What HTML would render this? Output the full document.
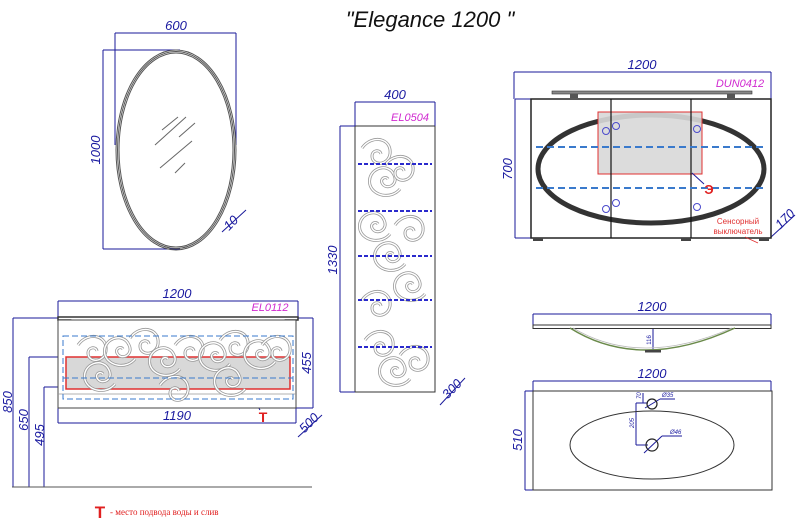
<!DOCTYPE html>
<html><head><meta charset="utf-8"><style>
html,body{margin:0;padding:0;background:#fff;width:800px;height:523px;overflow:hidden}
svg{display:block}
text{font-family:"Liberation Sans",sans-serif}
.it{font-style:italic}
</style></head><body>
<svg width="800" height="523" viewBox="0 0 800 523" xmlns="http://www.w3.org/2000/svg">
<defs>
<g id="curl">
<path d="M0,0 c10,-14 30,-10 28,6 c-2,12 -18,12 -18,2 c0,-6 8,-7 9,-2" fill="none" stroke="#999" stroke-width="3"/>
<path d="M0,0 c10,-14 30,-10 28,6 c-2,12 -18,12 -18,2 c0,-6 8,-7 9,-2" fill="none" stroke="#fff" stroke-width="1.4"/>
</g>
<g id="curl2">
<path d="M0,0 c-4,-16 18,-24 24,-10 c5,10 -8,16 -12,8 c-2,-5 4,-7 6,-4 M0,0 c4,12 22,14 30,4" fill="none" stroke="#999" stroke-width="3"/>
<path d="M0,0 c-4,-16 18,-24 24,-10 c5,10 -8,16 -12,8 c-2,-5 4,-7 6,-4 M0,0 c4,12 22,14 30,4" fill="none" stroke="#fff" stroke-width="1.4"/>
</g>
</defs>
<!-- Title -->
<text class="it" x="430" y="27" font-size="22" text-anchor="middle" fill="#111">"Elegance 1200 "</text>

<!-- Mirror -->
<g stroke="#1a1a9a" stroke-width="1" fill="none">
<line x1="115" y1="33" x2="236" y2="33"/><line x1="115" y1="33" x2="115" y2="145"/><line x1="236" y1="33" x2="236" y2="145"/>
<line x1="103" y1="50" x2="180" y2="50"/><line x1="103" y1="249" x2="180" y2="249"/><line x1="103" y1="50" x2="103" y2="249"/>
<line x1="222" y1="232" x2="246" y2="210"/>
</g>
<ellipse cx="176" cy="150" rx="60" ry="100" fill="none" stroke="#555" stroke-width="1"/>
<ellipse cx="176" cy="150" rx="58.5" ry="98.5" fill="none" stroke="#555" stroke-width="1"/>
<ellipse cx="176" cy="150" rx="57" ry="97" fill="none" stroke="#555" stroke-width="1"/>
<g stroke="#666" stroke-width="1">
<line x1="162" y1="130" x2="178" y2="117"/><line x1="155" y1="145" x2="186" y2="117"/><line x1="179" y1="137" x2="195" y2="123"/>
<line x1="160" y1="168" x2="192" y2="141"/><line x1="175" y1="173" x2="185" y2="163"/>
</g>
<g fill="#1a1aa0" font-size="13" class="it">
<text x="176" y="30" text-anchor="middle">600</text>
<text transform="translate(100,150) rotate(-90)" text-anchor="middle">1000</text>
<text transform="translate(234,226) rotate(-45)" text-anchor="middle">10</text>
</g>

<!-- Column EL0504 -->
<rect x="355" y="126" width="80" height="266" fill="#fff" stroke="#333" stroke-width="1"/>
<g stroke="#1a1a9a" stroke-width="1" fill="none">
<line x1="355" y1="102" x2="435" y2="102"/><line x1="355" y1="102" x2="355" y2="126"/><line x1="435" y1="102" x2="435" y2="126"/>
<line x1="340" y1="126" x2="355" y2="126"/><line x1="340" y1="392" x2="355" y2="392"/><line x1="340" y1="126" x2="340" y2="392"/>
<line x1="440" y1="405" x2="465" y2="378"/>
</g>
<use href="#curl" x="362" y="148"/><use href="#curl2" x="370" y="185"/><use href="#curl" x="385" y="165"/>
<use href="#curl2" x="360" y="230"/><use href="#curl" x="395" y="225"/><use href="#curl2" x="375" y="260"/>
<use href="#curl" x="362" y="300"/><use href="#curl2" x="395" y="290"/><use href="#curl" x="365" y="340"/>
<use href="#curl2" x="380" y="375"/><use href="#curl" x="400" y="355"/>
<g stroke="#2a2acc" stroke-width="2" stroke-dasharray="4,2">
<line x1="358" y1="164" x2="432" y2="164"/><line x1="358" y1="211" x2="432" y2="211"/><line x1="358" y1="256" x2="432" y2="256"/>
<line x1="358" y1="300" x2="432" y2="300"/><line x1="358" y1="347" x2="432" y2="347"/>
</g>
<g fill="#1a1aa0" font-size="13" class="it">
<text x="395" y="99" text-anchor="middle">400</text>
<text transform="translate(337,260) rotate(-90)" text-anchor="middle">1330</text>
<text transform="translate(455,392) rotate(-45)" text-anchor="middle">300</text>
</g>
<text class="it" x="410" y="121" font-size="11" fill="#d02ad0" text-anchor="middle">EL0504</text>

<!-- Bottom-left cabinet -->
<g stroke="#1a1a9a" stroke-width="1" fill="none">
<line x1="58" y1="301" x2="298" y2="301"/><line x1="58" y1="301" x2="58" y2="318"/><line x1="298" y1="301" x2="298" y2="318"/>
<line x1="58" y1="423" x2="296" y2="423"/><line x1="58" y1="408" x2="58" y2="423"/><line x1="296" y1="408" x2="296" y2="423"/>
<line x1="296" y1="318" x2="313" y2="318"/><line x1="296" y1="408" x2="313" y2="408"/><line x1="313" y1="318" x2="313" y2="408"/>
<line x1="13" y1="318" x2="58" y2="318"/><line x1="13" y1="318" x2="13" y2="487"/>
<line x1="29" y1="357" x2="66" y2="357"/><line x1="29" y1="357" x2="29" y2="487"/>
<line x1="44" y1="387" x2="66" y2="387"/><line x1="44" y1="387" x2="44" y2="487"/>
<line x1="298" y1="437" x2="322" y2="415"/>
<line x1="242" y1="380" x2="260" y2="410"/>
</g>
<line x1="12" y1="487" x2="312" y2="487" stroke="#555" stroke-width="1"/>
<path d="M58,317 L298,317 L298,320 L285,320 L273,327 L83,327 L71,320 L58,320 Z" fill="#fff" stroke="#333" stroke-width="1.5"/>
<rect x="58" y="320" width="238" height="88" fill="#fff" stroke="#444" stroke-width="1"/>
<line x1="58" y1="394" x2="296" y2="394" stroke="#999" stroke-width="0.8"/>
<rect x="66" y="357" width="224" height="32" fill="#d8d8d8" stroke="#e03030" stroke-width="1.5"/>
<use href="#curl" x="78" y="345"/><use href="#curl2" x="105" y="355"/><use href="#curl" x="130" y="338"/>
<use href="#curl2" x="150" y="365"/><use href="#curl" x="175" y="345"/><use href="#curl2" x="200" y="360"/>
<use href="#curl" x="220" y="340"/><use href="#curl2" x="245" y="358"/><use href="#curl" x="262" y="345"/>
<use href="#curl2" x="85" y="380"/><use href="#curl" x="160" y="385"/><use href="#curl2" x="215" y="385"/>
<g fill="none" stroke="#3a7acc" stroke-width="1" stroke-dasharray="6,3">
<rect x="63" y="336" width="230" height="63"/>
<line x1="63" y1="378" x2="293" y2="378"/>
</g>
<g fill="#1a1aa0" font-size="13" class="it">
<text x="177" y="298" text-anchor="middle">1200</text>
<text x="177" y="420" text-anchor="middle">1190</text>
<text transform="translate(311,363) rotate(-90)" text-anchor="middle">455</text>
<text transform="translate(12,402) rotate(-90)" text-anchor="middle">850</text>
<text transform="translate(28,420) rotate(-90)" text-anchor="middle">650</text>
<text transform="translate(44,435) rotate(-90)" text-anchor="middle">495</text>
<text transform="translate(312,426) rotate(-45)" text-anchor="middle">500</text>
</g>
<text class="it" x="270" y="311" font-size="11" fill="#d02ad0" text-anchor="middle">EL0112</text>
<text x="263" y="422" font-size="14" font-weight="bold" fill="#e02020" text-anchor="middle">T</text>
<text x="100" y="518" font-size="17" font-weight="bold" fill="#e02020" text-anchor="middle">T</text>
<text x="110" y="515" font-size="9" fill="#e02020" style="font-family:'Liberation Serif',serif">- место подвода воды и слив</text>

<!-- Top-right cabinet -->
<g stroke="#1a1a9a" stroke-width="1" fill="none">
<line x1="514" y1="72" x2="771" y2="72"/><line x1="514" y1="72" x2="514" y2="99"/><line x1="771" y1="72" x2="771" y2="99"/>
<line x1="515" y1="99" x2="531" y2="99"/><line x1="515" y1="99" x2="515" y2="238"/><line x1="515" y1="238" x2="531" y2="238"/>
<line x1="770" y1="238" x2="795" y2="215"/>
</g>
<rect x="552" y="91" width="200" height="3" fill="#888" stroke="#333" stroke-width="0.6"/>
<rect x="570" y="94" width="8" height="4" fill="#555"/><rect x="727" y="94" width="8" height="4" fill="#555"/>
<rect x="531" y="99" width="240" height="139" fill="#fff" stroke="#222" stroke-width="1.5"/>
<ellipse cx="651" cy="169" rx="113" ry="54" fill="none" stroke="#333" stroke-width="5"/>
<rect x="598" y="112" width="104" height="62" fill="#d8d8d8" fill-opacity="0.9" stroke="#e03030" stroke-width="1"/>
<line x1="611" y1="99" x2="611" y2="238" stroke="#111" stroke-width="1.2"/>
<line x1="691" y1="99" x2="691" y2="238" stroke="#111" stroke-width="1.2"/>
<g stroke="#3a7acc" stroke-width="2" stroke-dasharray="7,4">
<line x1="536" y1="147" x2="767" y2="147"/><line x1="536" y1="188" x2="767" y2="188"/>
</g>
<g fill="none" stroke="#4a4acc" stroke-width="1">
<circle cx="606" cy="131" r="3.5"/><circle cx="616" cy="126" r="3.5"/><circle cx="697" cy="129" r="3.5"/>
<circle cx="606" cy="209" r="3.5"/><circle cx="616" cy="203" r="3.5"/><circle cx="697" cy="207" r="3.5"/>
</g>
<line x1="692" y1="173" x2="704" y2="184" stroke="#1a1a9a" stroke-width="1"/>
<line x1="745" y1="237" x2="758" y2="243" stroke="#e03030" stroke-width="0.8"/>
<rect x="533" y="238" width="10" height="3" fill="#444"/><rect x="681" y="238" width="10" height="3" fill="#444"/><rect x="759" y="238" width="10" height="3" fill="#444"/>
<g fill="#1a1aa0" font-size="13" class="it">
<text x="642" y="69" text-anchor="middle">1200</text>
<text transform="translate(512,169) rotate(-90)" text-anchor="middle">700</text>
<text transform="translate(788,222) rotate(-45)" text-anchor="middle">170</text>
</g>
<text class="it" x="740" y="87" font-size="11" fill="#d02ad0" text-anchor="middle">DUN0412</text>
<text x="709" y="194" font-size="13" font-weight="bold" fill="#e02020" text-anchor="middle">Э</text>
<text x="738" y="224" font-size="8" fill="#e03030" text-anchor="middle">Сенсорный</text>
<text x="738" y="234" font-size="8" fill="#e03030" text-anchor="middle">выключатель</text>

<!-- Sink side -->
<g stroke="#1a1a9a" stroke-width="1" fill="none">
<line x1="533" y1="314" x2="771" y2="314"/><line x1="533" y1="314" x2="533" y2="325"/><line x1="771" y1="314" x2="771" y2="325"/>
<line x1="653" y1="326" x2="653" y2="352"/>
</g>
<rect x="533" y="325" width="238" height="3.5" fill="#fff" stroke="#333" stroke-width="1"/>
<path d="M570,328 Q640,372 735,328" fill="none" stroke="#6a8a4a" stroke-width="1.5"/>
<path d="M573,328 Q640,368 732,328" fill="none" stroke="#bbb" stroke-width="0.8"/>
<rect x="645" y="350" width="16" height="2.5" fill="#444"/>
<text transform="translate(651,340) rotate(-90)" font-size="6" fill="#1a1aa0" text-anchor="middle">116</text>
<text class="it" x="652" y="311" font-size="13" fill="#1a1aa0" text-anchor="middle">1200</text>

<!-- Sink top -->
<g stroke="#1a1a9a" stroke-width="1" fill="none">
<line x1="533" y1="381" x2="771" y2="381"/><line x1="533" y1="381" x2="533" y2="391"/><line x1="771" y1="381" x2="771" y2="391"/>
<line x1="525" y1="391" x2="533" y2="391"/><line x1="525" y1="490" x2="533" y2="490"/><line x1="525" y1="391" x2="525" y2="490"/>
<line x1="636" y1="403" x2="636" y2="445"/><line x1="636" y1="403" x2="648" y2="403"/><line x1="636" y1="445" x2="648" y2="445"/>
<line x1="643" y1="393" x2="643" y2="403"/>
<line x1="645" y1="408" x2="660" y2="399"/><line x1="660" y1="399" x2="675" y2="399"/>
<line x1="644" y1="453" x2="662" y2="436"/><line x1="662" y1="436" x2="682" y2="436"/>
</g>
<rect x="533" y="391" width="239" height="99" fill="none" stroke="#333" stroke-width="1"/>
<ellipse cx="652" cy="445" rx="82" ry="34" fill="none" stroke="#333" stroke-width="1"/>
<circle cx="652" cy="404" r="5" fill="none" stroke="#222" stroke-width="1.2"/>
<circle cx="652" cy="445" r="6" fill="none" stroke="#222" stroke-width="1.2"/>
<g fill="#1a1aa0" font-size="6" class="it">
<text x="662" y="397">Ø35</text><text x="670" y="434">Ø46</text>
<text transform="translate(641,399) rotate(-90)">70</text>
<text transform="translate(634,428) rotate(-90)">205</text>
</g>
<text class="it" x="652" y="378" font-size="13" fill="#1a1aa0" text-anchor="middle">1200</text>
<text class="it" transform="translate(522,440) rotate(-90)" font-size="13" fill="#1a1aa0" text-anchor="middle">510</text>
</svg>
</body></html>
